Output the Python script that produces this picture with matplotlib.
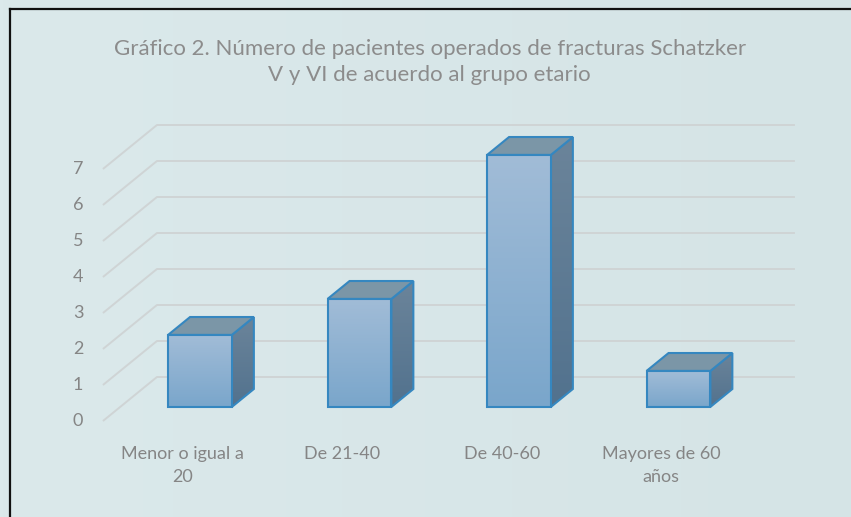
import matplotlib.pyplot as plt
import numpy as np
from matplotlib.patches import Polygon
from matplotlib.colors import LinearSegmentedColormap
from matplotlib.lines import Line2D

# Data
categorias = ["Menor o igual a\n20", "De 21-40", "De 40-60", "Mayores de 60\naños"]
pacientes = [2, 3, 7, 1]
valores_eje = [0, 1, 2, 3, 4, 5, 6, 7]
titulo = ("Gráfico 2. Número de pacientes operados de fracturas Schatzker\n"
          "V y VI de acuerdo al grupo etario")

plt.rcParams['font.family'] = ['Lato', 'DejaVu Sans']

W, H = 851, 517
fig = plt.figure(figsize=(W / 100, H / 100), dpi=100)
fig.patch.set_facecolor('#d9e7e9')
ax = fig.add_axes([0, 0, 1, 1])

# one category = 159.5 px, one unit = 36 px (oblique 3D look)
cat_px, unit_px = 159.5, 36.0
x0_px, y0_px = 182.7, 421.0
ax.set_xlim(-x0_px / cat_px, (W - x0_px) / cat_px)
ax.set_ylim(-(H - y0_px) / unit_px, y0_px / unit_px)
ax.axis('off')

# depth offsets of the box
DX = 54 / cat_px
DY = 44 / unit_px


def p(x, y, d):
    return (x + d * DX, y + d * DY)


# background gradient
xl, yl = ax.get_xlim(), ax.get_ylim()
bg = LinearSegmentedColormap.from_list('bg', ['#dbe9eb', '#d5e4e6'])
grad = np.linspace(0, 1, 256).reshape(1, -1)
ax.imshow(grad, cmap=bg, extent=[xl[0], xl[1], yl[0], yl[1]],
          aspect='auto', zorder=0)

n = len(categorias)
left, right = -0.5, n - 0.5

# gridlines on side wall and back wall
for v in valores_eje:
    a, b, c = p(left, v, 0), p(left, v, 1), p(right, v, 1)
    ax.plot([a[0], b[0], c[0]], [a[1], b[1], c[1]], color='#cfd4d5',
            lw=1.4, zorder=1, solid_capstyle='butt')
    ax.text(left - 25 / cat_px, v, str(v), ha='center', va='center',
            fontsize=13, color='#858585')

# bars
bw = 0.2
d1, d2 = 0.32, 0.727
front_cmap = LinearSegmentedColormap.from_list('front', ['#7aa6cb', '#a1bcd7'])
side_cmap = LinearSegmentedColormap.from_list('side', ['#52728e', '#6b849a'])
edge = '#3587c0'

for i, v in enumerate(pacientes):
    front = [p(i - bw, 0, d1), p(i + bw, 0, d1), p(i + bw, v, d1), p(i - bw, v, d1)]
    top = [p(i - bw, v, d1), p(i + bw, v, d1), p(i + bw, v, d2), p(i - bw, v, d2)]
    side = [p(i + bw, 0, d1), p(i + bw, 0, d2), p(i + bw, v, d2), p(i + bw, v, d1)]

    # side face with gradient
    sp = Polygon(side, closed=True, facecolor='none', edgecolor=edge, lw=1.5, zorder=3)
    ax.add_patch(sp)
    xs = [q[0] for q in side]
    ys = [q[1] for q in side]
    im = ax.imshow(np.linspace(0, 1, 100).reshape(-1, 1), cmap=side_cmap,
                   extent=[min(xs), max(xs), min(ys), max(ys)], origin='lower',
                   aspect='auto', zorder=2)
    im.set_clip_path(sp)

    # top face
    ax.add_patch(Polygon(top, closed=True, facecolor='#7b96a7', edgecolor=edge,
                         lw=1.5, zorder=3))

    # front face with gradient
    fp = Polygon(front, closed=True, facecolor='none', edgecolor=edge, lw=1.5, zorder=5)
    ax.add_patch(fp)
    xs = [q[0] for q in front]
    ys = [q[1] for q in front]
    im = ax.imshow(np.linspace(0, 1, 100).reshape(-1, 1), cmap=front_cmap,
                   extent=[min(xs), max(xs), min(ys), max(ys)], origin='lower',
                   aspect='auto', zorder=4)
    im.set_clip_path(fp)

    # category label
    ax.text(i, -(446 - y0_px) / unit_px, categorias[i], ha='center', va='top',
            fontsize=13, color='#858585', linespacing=1.5)

ax.set_xlim(xl)
ax.set_ylim(yl)

# title
fig.text(0.505, 1 - 62 / H, titulo, ha='center', va='center', fontsize=16,
         color='#8c8c8c', linespacing=1.4)

# black frame (top and left)
fig.add_artist(Line2D([9.5 / W, 1], [1 - 8.5 / H, 1 - 8.5 / H], color='#111111',
                      lw=1.6, transform=fig.transFigure))
fig.add_artist(Line2D([9.5 / W, 9.5 / W], [0, 1 - 8.5 / H], color='#111111',
                      lw=1.6, transform=fig.transFigure))

fig.savefig('out.png', dpi=100, facecolor=fig.get_facecolor())
